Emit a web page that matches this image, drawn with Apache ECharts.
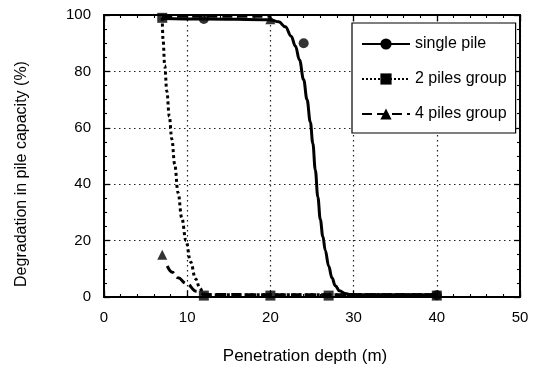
<!DOCTYPE html>
<html><head><meta charset="utf-8">
<script src="https://cdn.jsdelivr.net/npm/echarts@6/dist/echarts.min.js"></script>
<style>html,body{margin:0;padding:0;background:#fff}#c{width:534px;height:373px}</style>
</head><body><div id="c"></div>
<script>
var xTicks = [0, 10, 20, 30, 40, 50];
var yTicks = [0, 20, 40, 60, 80, 100];
var seriesNames = ['single pile', '2 piles group', '4 piles group'];

var singleX = [7, 12, 20, 21, 21.8, 22.5, 23, 23.5, 24, 24.4, 24.8, 25.1, 25.4, 25.7, 26, 26.3, 26.6, 27, 27.4, 27.8, 28.3, 29, 29.7, 31, 40];
var singleY = [98.8, 98.6, 98.3, 97.6, 95.8, 92.5, 89, 84, 77, 70, 62, 54.5, 45, 35.5, 27.5, 21.5, 16.5, 11, 6.8, 4, 2.2, 1.2, 0.85, 0.8, 0.8];
var singleMarkX = [12, 24, 40];
var singleMarkY = [98.6, 90, 0.6];

var twoX = [7, 7.1, 7.3, 7.55, 7.85, 8.15, 8.5, 8.9, 9.35, 9.85, 10.4, 11, 11.5, 12, 20, 27, 40];
var twoY = [99, 91, 82, 73, 64, 56, 47, 37, 28, 20, 12.5, 6.5, 3.3, 0.8, 0.8, 0.8, 0.8];
var twoMarkX = [7, 12, 20, 27, 40];
var twoMarkY = [99, 0.5, 0.5, 0.5, 0.5];

var fourX = [7.6, 8.2, 8.9, 9.9, 11.1, 11.9, 12.5, 20, 40];
var fourY = [11, 8.8, 6.8, 4.8, 2, 1.1, 0.9, 0.8, 0.8];
var fourMarkX = [7];
var fourMarkY = [15];
var fourTopX = [7, 20];
var fourTopY = [99.6, 99.6];
var fourTopMarkX = [20];
var fourTopMarkY = [98.5];

function pairs(xs, ys) { return xs.map(function (x, i) { return [x, ys[i]]; }); }

var FONT = 'Liberation Sans';
var black = '#000';

function axisBase(min, max, interval, minorSplit) {
  return {
    type: 'value', min: min, max: max, interval: interval,
    axisLine: { show: true, onZero: false, lineStyle: { color: black, width: 2 } },
    axisTick: { show: true, inside: true, length: 6, lineStyle: { color: black, width: 1.3 } },
    minorTick: { show: true, splitNumber: minorSplit, length: 3, lineStyle: { color: black, width: 1.1 } },
    splitLine: { show: false },
    axisLabel: { show: false }
  };
}

var xMain = axisBase(0, 50, 10, 5);
xMain.position = 'bottom';
xMain.splitLine = { show: true, lineStyle: { color: '#222', type: [1.5, 3.5], width: 1.2 } };
xMain.axisLabel = { show: true, color: black, fontSize: 15, fontFamily: FONT, margin: 13,
  formatter: function (v) { return xTicks.indexOf(v) >= 0 ? String(v) : ''; } };
xMain.name = 'Penetration depth (m)';
xMain.nameLocation = 'middle';
xMain.nameGap = 51;
xMain.nameTextStyle = { color: black, fontSize: 17, fontFamily: FONT, padding: [0, 14, 0, 0] };

var xTop = axisBase(0, 50, 10, 5);
xTop.position = 'top';

var yMain = axisBase(0, 100, 20, 4);
yMain.position = 'left';
yMain.splitLine = { show: true, lineStyle: { color: '#222', type: [1.5, 3.5], width: 1.2 } };
yMain.axisLabel = { show: true, color: black, fontSize: 15, fontFamily: FONT, margin: 13,
  formatter: function (v) { return yTicks.indexOf(v) >= 0 ? String(v) : ''; } };
yMain.name = 'Degradation in pile capacity (%)';
yMain.nameLocation = 'middle';
yMain.nameGap = 74;
yMain.nameTextStyle = { color: black, fontSize: 16, fontFamily: FONT, padding: [0, 36, 0, 0] };

var yRight = axisBase(0, 100, 20, 4);
yRight.position = 'right';

function curve(name, xs, ys, lineType, symbol) {
  return {
    type: 'line', name: name, data: pairs(xs, ys), xAxisIndex: 0, yAxisIndex: 0,
    symbol: symbol, symbolSize: 10, showSymbol: false,
    smooth: 0.4, smoothMonotone: 'x',
    lineStyle: { color: black, width: 3, type: lineType },
    itemStyle: { color: black },
    z: 3, silent: true, animation: false
  };
}
function marks(name, xs, ys, symbol) {
  return {
    type: 'scatter', name: name, data: pairs(xs, ys), xAxisIndex: 0, yAxisIndex: 0,
    symbol: symbol, symbolSize: 10, itemStyle: { color: black }, z: 5, animation: false
  };
}

var option = {
  backgroundColor: '#fff',
  animation: false,
  grid: { left: 104, right: 14, top: 15, bottom: 76, containLabel: false },
  xAxis: [xMain, xTop],
  yAxis: [yMain, yRight],
  legend: {
    data: seriesNames,
    orient: 'vertical', left: 352, top: 23,
    backgroundColor: '#fff', borderColor: black, borderWidth: 1.2,
    padding: [13, 9, 11, 9],
    itemWidth: 48, itemHeight: 14, itemGap: 19,
    textStyle: { color: black, fontSize: 16, fontFamily: FONT },
    selectedMode: false, z: 10
  },
  series: [
    curve(seriesNames[0], singleX, singleY, 'solid', 'circle'),
    curve(seriesNames[1], twoX, twoY, 'dotted', 'rect'),
    curve(seriesNames[2], fourX, fourY, [10, 5], 'triangle'),
    curve(seriesNames[2], fourTopX, fourTopY, [10, 5], 'triangle'),
    marks(seriesNames[0], singleMarkX, singleMarkY, 'circle'),
    marks(seriesNames[1], twoMarkX, twoMarkY, 'rect'),
    marks(seriesNames[2], fourMarkX, fourMarkY, 'triangle'),
    marks(seriesNames[2], fourTopMarkX, fourTopMarkY, 'triangle')
  ]
};
var chart = echarts.init(document.getElementById('c'), null, { renderer: 'canvas' });
chart.setOption(option);
</script></body></html>
